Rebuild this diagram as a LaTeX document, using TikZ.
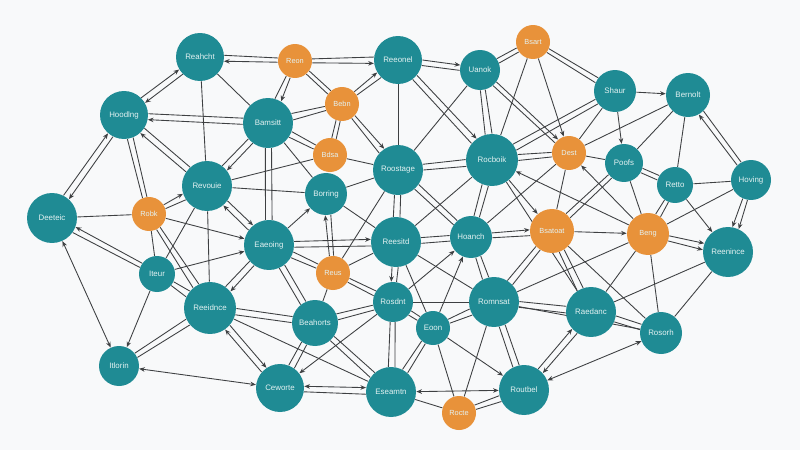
\documentclass[tikz,border=0pt]{standalone}
\usepackage{fontspec}
\setmainfont{Liberation Sans}
\usetikzlibrary{arrows.meta, calc}
\definecolor{tealnode}{RGB}{31,139,148}
\definecolor{orangenode}{RGB}{232,146,58}
\definecolor{paper}{RGB}{248,249,250}
\definecolor{wirec}{RGB}{62,64,66}
\definecolor{lbl}{RGB}{228,242,242}
\pgfdeclarelayer{paperlayer}
\pgfdeclarelayer{wires}
\pgfsetlayers{paperlayer,wires,main}
\tikzset{
  tn/.style={circle, fill=tealnode, inner sep=0pt, minimum size=#1*0.04cm, text=lbl, font=\fontsize{4.5}{5.5}\selectfont},
  on/.style={circle, fill=orangenode, inner sep=0pt, minimum size=#1*0.04cm, text=lbl, font=\fontsize{4.2}{5.5}\selectfont},
  wire/.style={draw=wirec, line width=0.5pt},
  >={Stealth[length=3.2pt,width=2.6pt]}
}
% two near-parallel connectors between the same pair of nodes
\newcommand{\twin}[4]{%
  \draw[wire, #3] let \p1=($(#2)-(#1)$), \n1={atan2(\y1,\x1)}, \n2={\n1+7}, \n3={\n1+173} in (#1.\n2) -- (#2.\n3);
  \draw[wire, #4] let \p1=($(#2)-(#1)$), \n1={atan2(\y1,\x1)}, \n2={\n1-7}, \n3={\n1-173} in (#1.\n2) -- (#2.\n3);
}
\begin{document}
\begin{tikzpicture}[x=0.02cm, y=-0.02cm]
  \useasboundingbox (0,0) rectangle (800,450);
  \begin{pgfonlayer}{paperlayer}
    \fill[paper] (0,0) rectangle (800,450);
  \end{pgfonlayer}

  % top row
  \node[tn=24] (reahcht) at (200,57) {Reahcht};
  \node[on=17] (reon) at (295,61) {Reon};
  \node[tn=24] (reeonel) at (398,60) {Reeonel};
  \node[tn=20] (uanok) at (480,70) {Uanok};
  \node[on=17] (bsart) at (533,42) {Bsart};
  \node[tn=21] (shaur) at (615,91) {Shaur};
  \node[tn=22] (bernolt) at (688,95) {Bernolt};
  \node[tn=24] (hoodlng) at (124,115) {Hoodlng};
  \node[tn=25] (bamsitt) at (268,123) {Bamsitt};
  \node[on=17] (bebn) at (342,104) {Bebn};
  % upper middle
  \node[on=17] (bdsa) at (330,155) {Bdsa};
  \node[tn=25] (roostage) at (398,170) {Roostage};
  \node[tn=26] (rocboik) at (492,160) {Rocboik};
  \node[on=17] (dest) at (569,153) {Dest};
  \node[tn=19] (poofs) at (624,163) {Poofs};
  \node[tn=18] (retto) at (675,185) {Retto};
  \node[tn=20] (hoving) at (751,180) {Hoving};
  \node[tn=25] (revouie) at (207,186) {Revouie};
  \node[tn=21] (borring) at (326,194) {Borring};
  \node[tn=25] (deeteic) at (52,218) {Deeteic};
  \node[on=17] (robk) at (149,214) {Robk};
  % middle
  \node[tn=25] (eaeoing) at (269,245) {Eaeoing};
  \node[tn=25] (reeudd) at (396,242) {Reesitd};
  \node[tn=21] (hoanch) at (471,237) {Hoanch};
  \node[on=22] (bsatoat) at (552,231) {Bsatoat};
  \node[on=21] (beng) at (648,234) {Beng};
  \node[tn=25] (reenince) at (728,252) {Reenince};
  \node[tn=18] (iteur) at (157,274) {Iteur};
  \node[on=17] (reus) at (333,273) {Reus};
  % lower middle
  \node[tn=26] (reeidnce) at (210,308) {Reeidnce};
  \node[tn=20] (rosdnt) at (393,302) {Rosdnt};
  \node[tn=25] (romnsat) at (494,302) {Romnsat};
  \node[tn=25] (raedanc) at (591,312) {Raedanc};
  \node[tn=21] (rosorh) at (661,333) {Rosorh};
  \node[tn=23] (beahorts) at (315,323) {Beahorts};
  \node[tn=17] (eoon) at (433,328) {Eoon};
  % bottom row
  \node[tn=20] (itlorin) at (119,366) {Itlorin};
  \node[tn=24] (ceworte) at (280,388) {Ceworte};
  \node[tn=25] (eseamtn) at (391,392) {Eseamtn};
  \node[on=17] (rocte) at (459,413) {Rocte};
  \node[tn=25] (routbel) at (524,390) {Routbel};

  \begin{pgfonlayer}{wires}
    % single connectors
    \draw[wire] (reahcht) -- (bamsitt);
    \draw[wire] (reahcht) -- (revouie);
    \draw[wire] (deeteic) -- (robk);
    \draw[wire, ->] (robk) -- (eaeoing);
    \draw[wire] (revouie) -- (bdsa);
    \draw[wire] (revouie) -- (borring);
    \draw[wire] (revouie) -- (reeidnce);
    \draw[wire, <->] (deeteic) -- (itlorin);
    \draw[wire, ->] (iteur) -- (itlorin);
    \draw[wire] (iteur) -- (robk);
    \draw[wire] (iteur) -- (revouie);
    \draw[wire, ->] (iteur) -- (eaeoing);
    \draw[wire, <->] (itlorin) -- (ceworte);
    \draw[wire] (reeidnce) -- (eseamtn);
    \draw[wire] (bamsitt) -- (borring);
    \draw[wire] (bdsa) -- (roostage);
    \draw[wire] (reeonel) -- (roostage);
    \draw[wire] (uanok) -- (roostage);
    \draw[wire, ->] (bsart) -- (dest);
    \draw[wire] (bsart) -- (rocboik);
    \draw[wire] (shaur) -- (dest);
    \draw[wire, ->] (shaur) -- (bernolt);
    \draw[wire, ->] (shaur) -- (poofs);
    \draw[wire] (bernolt) -- (dest);
    \draw[wire] (bernolt) -- (poofs);
    \draw[wire] (bernolt) -- (retto);
    \draw[wire] (retto) -- (hoving);
    \draw[wire] (dest) -- (poofs);
    \draw[wire] (hoving) -- (beng);
    \draw[wire, ->] (retto) -- (reenince);
    \draw[wire] (poofs) -- (beng);
    \draw[wire, ->] (beng) -- (dest);
    \draw[wire] (dest) -- (bsatoat);
    \draw[wire, ->] (bsatoat) -- (beng);
    \draw[wire] (beng) -- (raedanc);
    \draw[wire] (beng) -- (rosorh);
    \draw[wire] (reenince) -- (raedanc);
    \draw[wire] (reenince) -- (rosorh);
    \draw[wire] (bsatoat) -- (rosorh);
    \draw[wire] (romnsat) -- (rosorh);
    \draw[wire, <->] (routbel) -- (rosorh);
    \draw[wire] (beng) -- (romnsat);
    \draw[wire] (roostage) -- (borring);
    \draw[wire] (roostage) -- (reus);
    \draw[wire] (rocboik) -- (reeudd);
    \draw[wire, ->] (rocboik) -- (bsatoat);
    \draw[wire, ->] (beng) -- (rocboik);
    \draw[wire] (rocboik) -- (raedanc);
    \draw[wire] (hoanch) -- (dest);
    \draw[wire, ->] (eoon) -- (hoanch);
    \draw[wire, ->] (rosdnt) -- (hoanch);
    \draw[wire, ->] (eaeoing) -- (borring);
    \draw[wire] (borring) -- (reeudd);
    \draw[wire] (reus) -- (reeudd);
    \draw[wire] (reus) -- (beahorts);
    \draw[wire] (reeudd) -- (romnsat);
    \draw[wire, ->] (rosdnt) -- (ceworte);
    \draw[wire] (rosdnt) -- (romnsat);
    \draw[wire, <->] (eseamtn) -- (routbel);
    \draw[wire] (eseamtn) -- (rocte);
    \draw[wire] (eoon) -- (rocte);
    \draw[wire, ->] (eoon) -- (routbel);
    \draw[wire] (romnsat) -- (rocte);
    \draw[wire] (reeudd) -- (eoon);
    % paired connectors
    \twin{reahcht}{hoodlng}{->}{<-}
    \twin{reon}{reahcht}{->}{-}
    \twin{reon}{reeonel}{-}{->}
    \twin{bamsitt}{hoodlng}{->}{-}
    \twin{hoodlng}{deeteic}{->}{<-}
    \twin{hoodlng}{robk}{-}{-}
    \twin{revouie}{hoodlng}{->}{-}
    \twin{bamsitt}{revouie}{->}{-}
    \twin{robk}{revouie}{->}{-}
    \twin{revouie}{eaeoing}{->}{<-}
    \twin{deeteic}{iteur}{<-}{-}
    \twin{iteur}{reeidnce}{-}{-}
    \twin{robk}{reeidnce}{-}{-}
    \twin{itlorin}{reeidnce}{-}{-}
    \twin{eaeoing}{reeidnce}{->}{-}
    \twin{reeidnce}{ceworte}{->}{<-}
    \twin{reeidnce}{beahorts}{-}{-}
    \twin{reon}{bamsitt}{->}{-}
    \twin{reon}{bebn}{-}{-}
    \twin{bebn}{reeonel}{->}{-}
    \twin{bebn}{bamsitt}{-}{-}
    \twin{bebn}{bdsa}{-}{-}
    \twin{bebn}{roostage}{->}{-}
    \twin{bamsitt}{bdsa}{-}{-}
    \twin{bamsitt}{eaeoing}{-}{-}
    \twin{reeonel}{uanok}{->}{-}
    \twin{reeonel}{rocboik}{->}{-}
    \twin{uanok}{rocboik}{-}{-}
    \twin{uanok}{bsart}{-}{-}
    \twin{uanok}{dest}{->}{-}
    \twin{bsart}{shaur}{-}{-}
    \twin{shaur}{rocboik}{-}{-}
    \twin{hoving}{bernolt}{->}{-}
    \twin{poofs}{retto}{-}{-}
    \twin{hoving}{reenince}{->}{->}
    \twin{retto}{beng}{-}{-}
    \twin{beng}{reenince}{->}{->}
    \twin{poofs}{bsatoat}{-}{-}
    \twin{raedanc}{rosorh}{-}{-}
    \twin{bsatoat}{raedanc}{-}{-}
    \twin{romnsat}{raedanc}{-}{-}
    \twin{routbel}{raedanc}{->}{<-}
    \twin{roostage}{rocboik}{-}{-}
    \twin{roostage}{reeudd}{-}{-}
    \twin{roostage}{hoanch}{-}{-}
    \twin{rocboik}{hoanch}{-}{-}
    \twin{rocboik}{dest}{-}{-}
    \twin{hoanch}{bsatoat}{->}{-}
    \twin{reeudd}{hoanch}{-}{-}
    \twin{hoanch}{romnsat}{-}{-}
    \twin{bsatoat}{romnsat}{-}{-}
    \twin{eaeoing}{reeudd}{->}{-}
    \twin{eaeoing}{reus}{-}{-}
    \twin{eaeoing}{beahorts}{-}{-}
    \twin{reus}{borring}{->}{-}
    \twin{reus}{rosdnt}{-}{-}
    \twin{reeudd}{rosdnt}{-}{->}
    \twin{rosdnt}{beahorts}{-}{-}
    \twin{rosdnt}{eseamtn}{-}{-}
    \twin{rosdnt}{eoon}{-}{-}
    \twin{beahorts}{ceworte}{-}{-}
    \twin{beahorts}{eseamtn}{-}{-}
    \twin{ceworte}{eseamtn}{<->}{-}
    \twin{eseamtn}{eoon}{-}{-}
    \twin{eoon}{romnsat}{-}{-}
    \twin{romnsat}{routbel}{-}{-}
    \twin{routbel}{rocte}{-}{-}
  \end{pgfonlayer}
\end{tikzpicture}
\end{document}
